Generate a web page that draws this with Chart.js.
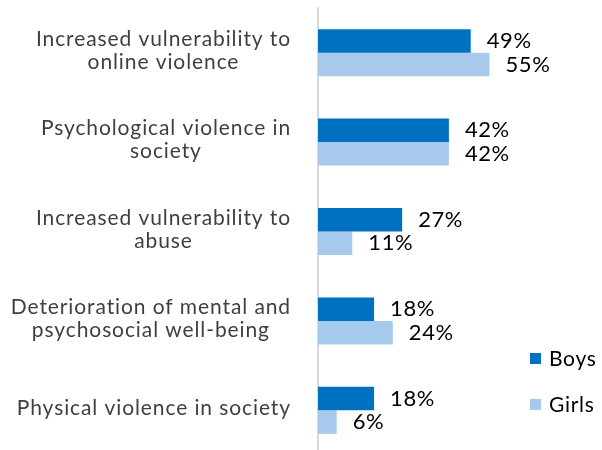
<!DOCTYPE html>
<html>
<head>
<meta charset="utf-8">
<script src="https://cdn.jsdelivr.net/npm/chart.js@4/dist/chart.umd.min.js"></script>
<style>
  html, body { margin: 0; padding: 0; background: #fff; overflow: hidden; }
  #wrap { position: relative; width: 602px; height: 455px; }
</style>
</head>
<body>
<div id="wrap"><canvas id="chart"></canvas></div>
<script>
const categories = [
  ['Increased vulnerability to', 'online violence'],
  ['Psychological violence in', 'society'],
  ['Increased vulnerability to', 'abuse'],
  ['Deterioration of mental and', 'psychosocial well-being'],
  ['Physical violence in society']
];
const boys = [49, 42, 27, 18, 18];
const girls = [55, 42, 11, 24, 6];

// category names, right-aligned as a block with each line centred inside it
const categoryLabels = {
  id: 'categoryLabels',
  afterDraw(chart) {
    const ctx = chart.ctx, y = chart.scales.y;
    ctx.save();
    ctx.font = '21px Lato';
    ctx.letterSpacing = '0.9px';
    ctx.fillStyle = '#3F3F3F';
    ctx.textAlign = 'center';
    ctx.textBaseline = 'middle';
    categories.forEach((lines, i) => {
      const w = Math.max(...lines.map(l => ctx.measureText(l).width));
      const cx = y.right - 27 - w / 2;
      const cy = y.getPixelForTick(i) - 2;
      lines.forEach((line, j) => {
        ctx.fillText(line, cx, cy + (j - (lines.length - 1) / 2) * 23);
      });
    });
    ctx.restore();
  }
};

// percentage next to the end of every bar
const valueLabels = {
  id: 'valueLabels',
  afterDatasetsDraw(chart) {
    const ctx = chart.ctx;
    ctx.save();
    ctx.font = '22px Lato';
    ctx.letterSpacing = '0.6px';
    ctx.fillStyle = '#000';
    ctx.textBaseline = 'middle';
    chart.data.datasets.forEach((ds, d) => {
      chart.getDatasetMeta(d).data.forEach((bar, i) => {
        ctx.fillText(ds.data[i] + '%', bar.x + 16, bar.y);
      });
    });
    ctx.restore();
  }
};

// legend stacked in the lower right corner
const sideLegend = {
  id: 'sideLegend',
  afterDraw(chart) {
    const ctx = chart.ctx, area = chart.chartArea;
    ctx.save();
    ctx.font = '21px Lato';
    ctx.letterSpacing = '0.7px';
    ctx.textBaseline = 'middle';
    chart.data.datasets.forEach((ds, d) => {
      const cy = area.bottom - 96 + d * 46;
      ctx.fillStyle = ds.backgroundColor;
      ctx.fillRect(area.right + 25, cy - 6, 11, 11);
      ctx.fillStyle = '#000';
      ctx.fillText(ds.label, area.right + 44, cy);
    });
    ctx.restore();
  }
};

new Chart(document.getElementById('chart'), {
  type: 'bar',
  data: {
    labels: categories,
    datasets: [
      { label: 'Boys', data: boys, backgroundColor: '#0070C0' },
      { label: 'Girls', data: girls, backgroundColor: '#A6C9EC' }
    ]
  },
  options: {
    indexAxis: 'y',
    responsive: true,
    maintainAspectRatio: false,
    animation: false,
    datasets: { bar: { categoryPercentage: 0.526, barPercentage: 1 } },
    layout: { padding: { top: 8, right: 97, bottom: 0, left: 0 } },
    plugins: { legend: { display: false }, tooltip: { enabled: false } },
    scales: {
      x: { display: false, min: 0, max: 60 },
      y: {
        z: 1,
        grid: { display: false },
        border: { display: true, color: '#D9D9D9', width: 2 },
        ticks: { display: false },
        afterFit(scale) { scale.width = 318; }
      }
    }
  },
  plugins: [categoryLabels, valueLabels, sideLegend]
});
</script>
</body>
</html>
